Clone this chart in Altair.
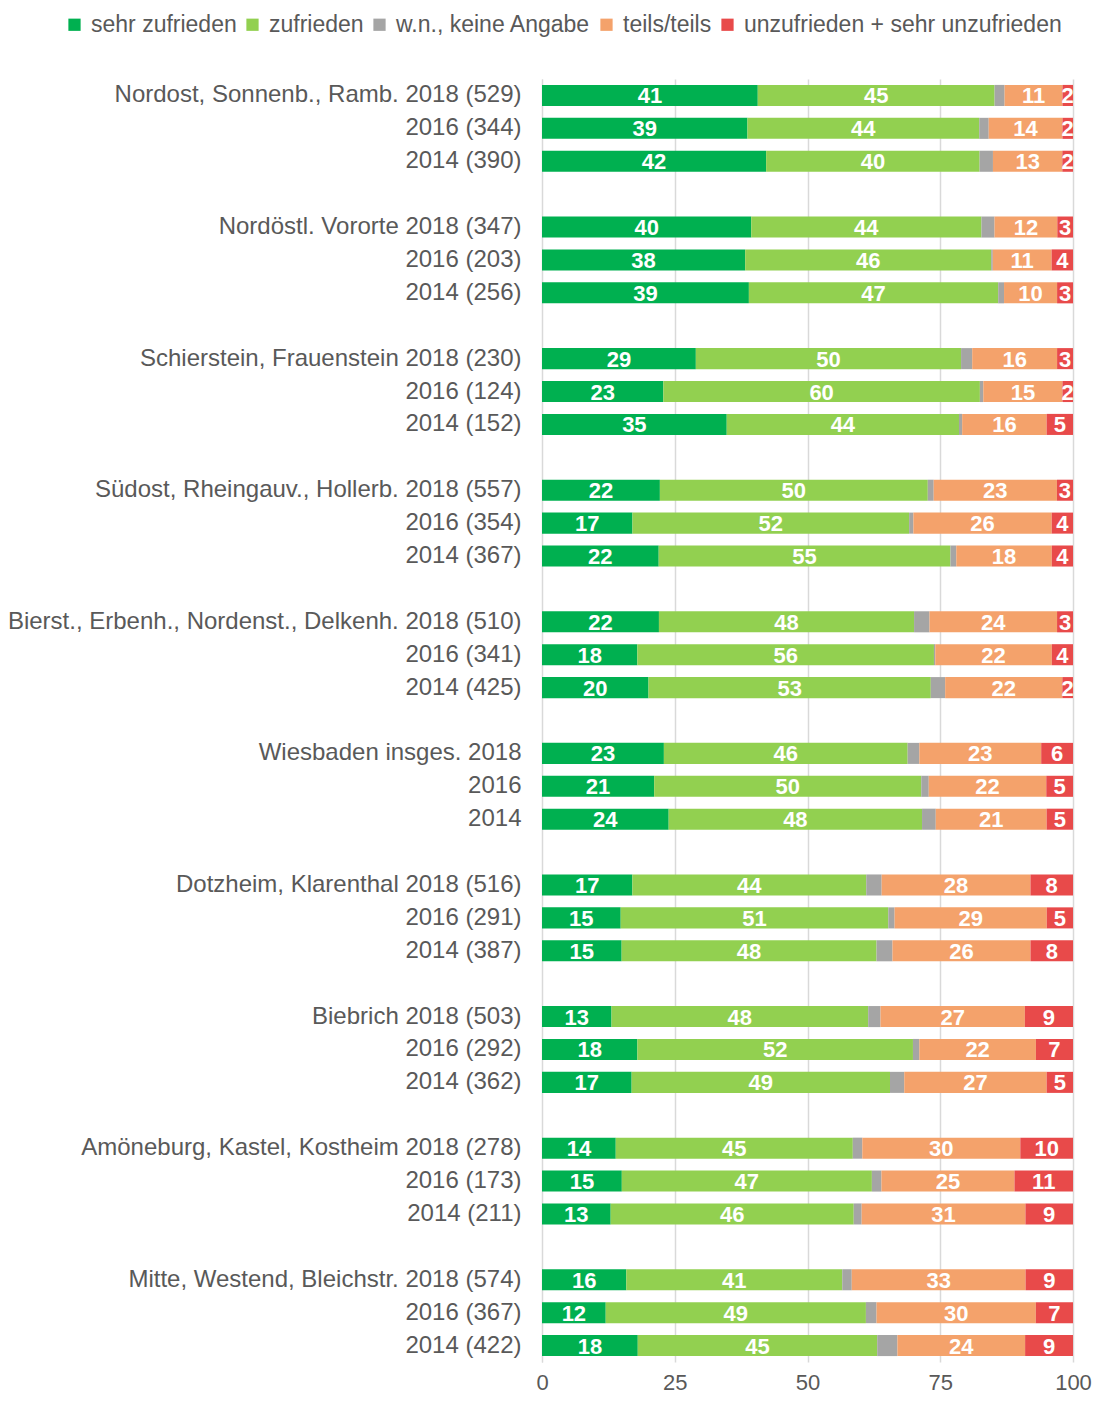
import altair as alt
import pandas as pd

labels = [
    "Nordost, Sonnenb., Ramb. 2018 (529)", "2016 (344)", "2014 (390)",
    "Nordöstl. Vororte 2018 (347)", "2016 (203)", "2014 (256)",
    "Schierstein, Frauenstein 2018 (230)", "2016 (124)", "2014 (152)",
    "Südost, Rheingauv., Hollerb. 2018 (557)", "2016 (354)", "2014 (367)",
    "Bierst., Erbenh., Nordenst., Delkenh. 2018 (510)", "2016 (341)", "2014 (425)",
    "Wiesbaden insges. 2018", "2016", "2014",
    "Dotzheim, Klarenthal 2018 (516)", "2016 (291)", "2014 (387)",
    "Biebrich 2018 (503)", "2016 (292)", "2014 (362)",
    "Amöneburg, Kastel, Kostheim 2018 (278)", "2016 (173)", "2014 (211)",
    "Mitte, Westend, Bleichstr. 2018 (574)", "2016 (367)", "2014 (422)",
]
sehr_zufrieden = [41, 39, 42, 40, 38, 39, 29, 23, 35, 22, 17, 22, 22, 18, 20,
                  23, 21, 24, 17, 15, 15, 13, 18, 17, 14, 15, 13, 16, 12, 18]
zufrieden = [45, 44, 40, 44, 46, 47, 50, 60, 44, 50, 52, 55, 48, 56, 53,
             46, 50, 48, 44, 51, 48, 48, 52, 49, 45, 47, 46, 41, 49, 45]
wn_keine_angabe = [1.9, 1.8, 2.5, 2.5, 0.3, 1.1, 2.1, 0.65, 0.6, 1.1, 0.8, 1.1, 2.9, 0.25, 2.7,
                   2.2, 1.4, 2.6, 2.9, 1.2, 3.0, 2.3, 1.2, 2.7, 1.8, 1.8, 1.5, 1.8, 2.0, 3.8]
teils_teils = [11, 14, 13, 12, 11, 10, 16, 15, 16, 23, 26, 18, 24, 22, 22,
               23, 22, 21, 28, 29, 26, 27, 22, 27, 30, 25, 31, 33, 30, 24]
unzufrieden = [2, 2, 2, 3, 4, 3, 3, 2, 5, 3, 4, 4, 3, 4, 2,
               6, 5, 5, 8, 5, 8, 9, 7, 5, 10, 11, 9, 9, 7, 9]

categories = ["sehr zufrieden", "zufrieden", "w.n., keine Angabe", "teils/teils",
              "unzufrieden + sehr unzufrieden"]
colors = ["#00B050", "#92D050", "#A5A5A5", "#F4A26B", "#E84A4A"]
series = [sehr_zufrieden, zufrieden, wn_keine_angabe, teils_teils, unzufrieden]

rows = []
for i, lab in enumerate(labels):
    for k, (cat, vals) in enumerate(zip(categories, series)):
        rows.append({"label": lab, "cat": cat, "order": k, "value": vals[i],
                     "txt": "" if k == 2 else str(vals[i])})
df = pd.DataFrame(rows)

# y domain with empty gap rows between groups
domain = []
for g in range(10):
    domain += labels[g * 3:g * 3 + 3]
    if g < 9:
        domain.append(" " * (g + 1))

FONT = "Liberation Sans"
TXT = "#595959"

base = alt.Chart(df).transform_stack(
    stack="value", groupby=["label"], sort=[alt.SortField("order")],
    as_=["x0", "x1"], offset="normalize"
).transform_calculate(mid="(datum.x0 + datum.x1) / 2")

yenc = alt.Y("label:N", sort=domain,
             scale=alt.Scale(domain=domain, paddingInner=0.36, paddingOuter=0.18),
             axis=alt.Axis(title=None, ticks=False, labelPadding=21, labelFontSize=24,
                           labelColor=TXT, labelFont=FONT, domain=True,
                           domainColor="#d9d9d9", labelLimit=800))

bars = base.mark_bar().encode(
    x=alt.X("x0:Q", scale=alt.Scale(domain=[0, 1], nice=False),
            axis=alt.Axis(title=None, values=[0, 0.25, 0.5, 0.75, 1],
                          labelExpr="format(datum.value * 100, 'd')",
                          grid=True, gridColor="#d9d9d9", gridWidth=1.5,
                          domain=False, ticks=False, labelPadding=10,
                          labelFlush=False,
                          labelFontSize=22, labelColor=TXT, labelFont=FONT)),
    x2="x1:Q",
    y=yenc,
    color=alt.Color("cat:N", sort=categories,
                    scale=alt.Scale(domain=categories, range=colors),
                    legend=alt.Legend(title=None, orient="none", direction="horizontal",
                                      legendX=-479, legendY=-66,
                                      symbolType="square", symbolSize=150,
                                      symbolStrokeWidth=0, labelFontSize=23,
                                      labelColor=TXT, labelFont=FONT, labelLimit=600,
                                      labelOffset=5, columnPadding=4)),
    order=alt.Order("order:Q"),
)

text = base.transform_filter("datum.txt != ''").mark_text(
    color="white", fontWeight="bold", fontSize=22, font=FONT,
    align="center", baseline="middle", dy=1
).encode(
    x="mid:Q",
    y=alt.Y("label:N", sort=domain, scale=alt.Scale(domain=domain)),
    text="txt:N",
)

chart = alt.layer(bars, text).properties(
    width=531, height=1283,
    autosize=alt.AutoSizeParams(type="none"),
    padding={"left": 534, "top": 71, "right": 20, "bottom": 34},
).configure_view(stroke=None)

chart.save("out.html", embed_options={"renderer": "svg", "actions": False})
